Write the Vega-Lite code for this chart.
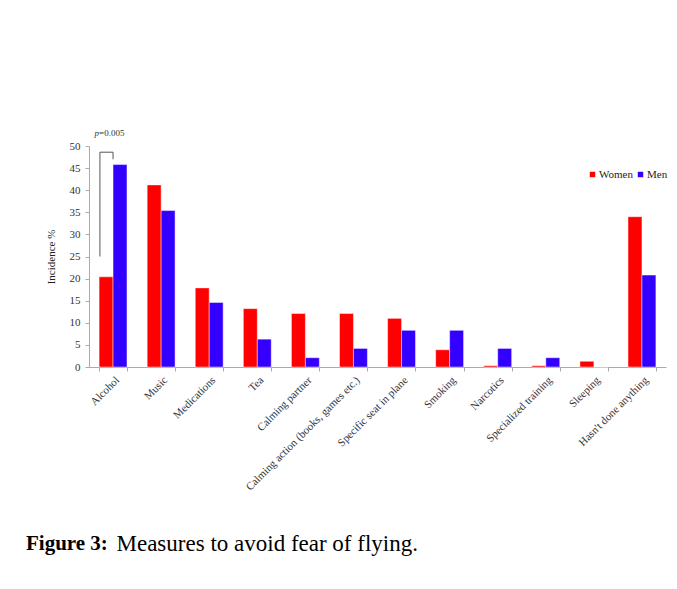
{
  "$schema": "https://vega.github.io/schema/vega-lite/v6.json",
  "width": 577,
  "height": 221,
  "autosize": {"type": "none"},
  "padding": {"left": 89, "top": 146, "right": 11, "bottom": 222},
  "background": "white",
  "title": {
    "text": "Figure 3:",
    "orient": "bottom",
    "anchor": "start",
    "frame": "group",
    "dx": -63,
    "offset": -22,
    "font": "Liberation Serif",
    "fontSize": 21,
    "fontWeight": "bold",
    "color": "black"
  },
  "config": {
    "font": "Liberation Serif",
    "view": {"stroke": null},
    "axis": {"grid": false},
    "axisX": {
      "labelAngle": -45,
      "labelAlign": "right",
      "labelBaseline": "top",
      "labelFont": "Liberation Serif",
      "labelFontSize": 11,
      "labelColor": "#333",
      "labelLimit": 0,
      "labelPadding": 3,
      "tickBand": "extent",
      "tickSize": 4,
      "tickColor": "#aaa",
      "domainColor": "#aaa",
      "titleX": 27,
      "titleY": 183,
      "titleAnchor": "start",
      "titleAlign": "left",
      "titleBaseline": "alphabetic",
      "titleFont": "Liberation Serif",
      "titleFontSize": 23,
      "titleFontWeight": "normal",
      "titleColor": "black"
    },
    "axisY": {
      "tickCount": 10,
      "labelFont": "Liberation Serif",
      "labelFontSize": 11,
      "labelColor": "#333",
      "labelPadding": 5,
      "tickSize": 4,
      "tickColor": "#aaa",
      "domainColor": "#aaa",
      "titleFont": "Liberation Serif",
      "titleFontSize": 11,
      "titleFontWeight": "normal",
      "titleColor": "#222",
      "titlePadding": 13
    },
    "legend": {
      "labelFont": "Liberation Serif",
      "labelFontSize": 11,
      "labelColor": "#222",
      "gridAlign": "none"
    }
  },
  "layer": [
    {
      "data": {
        "values": [
          {"category": "Alcohol", "sex": "Women", "value": 20.4},
          {"category": "Alcohol", "sex": "Men", "value": 45.8},
          {"category": "Music", "sex": "Women", "value": 41.2},
          {"category": "Music", "sex": "Men", "value": 35.4},
          {"category": "Medications", "sex": "Women", "value": 17.9},
          {"category": "Medications", "sex": "Men", "value": 14.6},
          {"category": "Tea", "sex": "Women", "value": 13.2},
          {"category": "Tea", "sex": "Men", "value": 6.3},
          {"category": "Calming partner", "sex": "Women", "value": 12.1},
          {"category": "Calming partner", "sex": "Men", "value": 2.1},
          {"category": "Calming action (books, games etc.)", "sex": "Women", "value": 12.1},
          {"category": "Calming action (books, games etc.)", "sex": "Men", "value": 4.2},
          {"category": "Specific seat in plane", "sex": "Women", "value": 11.0},
          {"category": "Specific seat in plane", "sex": "Men", "value": 8.3},
          {"category": "Smoking", "sex": "Women", "value": 3.9},
          {"category": "Smoking", "sex": "Men", "value": 8.3},
          {"category": "Narcotics", "sex": "Women", "value": 0.3},
          {"category": "Narcotics", "sex": "Men", "value": 4.2},
          {"category": "Specialized training", "sex": "Women", "value": 0.3},
          {"category": "Specialized training", "sex": "Men", "value": 2.1},
          {"category": "Sleeping", "sex": "Women", "value": 1.3},
          {"category": "Sleeping", "sex": "Men", "value": 0},
          {"category": "Hasn't done anything", "sex": "Women", "value": 34.0},
          {"category": "Hasn't done anything", "sex": "Men", "value": 20.8}
        ]
      },
      "mark": {"type": "bar", "stroke": "white", "strokeOpacity": 0.45, "strokeWidth": 1},
      "encoding": {
        "x": {
          "field": "category",
          "type": "nominal",
          "title": "Measures to avoid fear of flying.",
          "sort": ["Alcohol", "Music", "Medications", "Tea", "Calming partner", "Calming action (books, games etc.)", "Specific seat in plane", "Smoking", "Narcotics", "Specialized training", "Sleeping", "Hasn't done anything"],
          "scale": {
            "domain": ["Alcohol", "Music", "Medications", "Tea", "Calming partner", "Calming action (books, games etc.)", "Specific seat in plane", "Smoking", "Narcotics", "Specialized training", "Sleeping", "Hasn't done anything"],
            "paddingInner": 0.42,
            "paddingOuter": 0.21
          }
        },
        "xOffset": {
          "field": "sex",
          "type": "nominal",
          "sort": ["Women", "Men"],
          "scale": {"domain": ["Women", "Men"], "paddingInner": 0, "paddingOuter": 0}
        },
        "y": {
          "field": "value",
          "type": "quantitative",
          "title": "Incidence %",
          "scale": {"domain": [0, 50], "nice": false}
        },
        "color": {
          "field": "sex",
          "type": "nominal",
          "scale": {"domain": ["Women", "Men"], "range": ["#ff0000", "#3300ff"]},
          "legend": {
            "orient": "none",
            "legendX": 498,
            "legendY": 23,
            "direction": "horizontal",
            "title": null,
            "symbolType": "square",
            "symbolSize": 30,
            "symbolStrokeWidth": 0,
            "labelOffset": 1,
            "columnPadding": 2
          }
        }
      }
    },
    {
      "data": {"values": [{"category": "Alcohol", "y": 53, "t": "p"}]},
      "mark": {"type": "text", "align": "right", "baseline": "middle", "font": "Liberation Serif", "fontSize": 9, "fontStyle": "italic", "color": "#333", "clip": false},
      "encoding": {
        "x": {"field": "category", "type": "nominal", "bandPosition": 0, "title": "Measures to avoid fear of flying."},
        "y": {"field": "y", "type": "quantitative", "title": "Incidence %"},
        "text": {"field": "t"}
      }
    },
    {
      "data": {"values": [{"category": "Alcohol", "y": 53, "t": "=0.005"}]},
      "mark": {"type": "text", "align": "left", "baseline": "middle", "font": "Liberation Serif", "fontSize": 9, "color": "#333", "clip": false},
      "encoding": {
        "x": {"field": "category", "type": "nominal", "bandPosition": 0, "title": "Measures to avoid fear of flying."},
        "y": {"field": "y", "type": "quantitative", "title": "Incidence %"},
        "text": {"field": "t"}
      }
    },
    {
      "data": {"values": [{"category": "Alcohol", "y1": 25, "y2": 48.6}]},
      "mark": {"type": "rule", "color": "#555", "strokeWidth": 1},
      "encoding": {
        "x": {"field": "category", "type": "nominal", "bandPosition": 0.03, "title": "Measures to avoid fear of flying."},
        "y": {"field": "y1", "type": "quantitative", "title": "Incidence %"},
        "y2": {"field": "y2"}
      }
    },
    {
      "data": {"values": [{"category": "Alcohol", "y1": 47, "y2": 48.6}]},
      "mark": {"type": "rule", "color": "#555", "strokeWidth": 1},
      "encoding": {
        "x": {"field": "category", "type": "nominal", "bandPosition": 0.5, "title": "Measures to avoid fear of flying."},
        "y": {"field": "y1", "type": "quantitative", "title": "Incidence %"},
        "y2": {"field": "y2"}
      }
    },
    {
      "data": {"values": [{"category": "Alcohol", "y1": 48.6}]},
      "mark": {"type": "rule", "color": "#555", "strokeWidth": 1},
      "encoding": {
        "x": {"field": "category", "type": "nominal", "bandPosition": 0.03, "title": "Measures to avoid fear of flying."},
        "x2": {"field": "category", "bandPosition": 0.5},
        "y": {"field": "y1", "type": "quantitative", "title": "Incidence %"}
      }
    }
  ]
}
